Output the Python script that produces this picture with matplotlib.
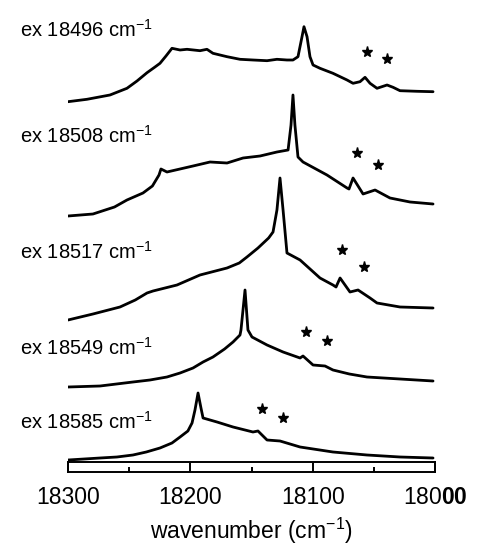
import matplotlib
matplotlib.use("Agg")
import matplotlib.pyplot as plt
import matplotlib.ticker as ticker

plt.rcParams['font.family'] = ['Liberation Sans', 'DejaVu Sans']
plt.rcParams['mathtext.fontset'] = 'custom'
plt.rcParams['mathtext.rm'] = 'Liberation Sans'
plt.rcParams['mathtext.bf'] = 'Liberation Sans:bold'

# excitation energies (cm-1), top to bottom
excitations = [18496, 18508, 18517, 18549, 18585]

# emission spectra: wavenumber (cm-1) and intensity (arb., above each trace's end level)
wn1 = [18300, 18284.5, 18265.7, 18251.8, 18243.6, 18235.4, 18228.9, 18224.8, 18219.9, 18215.0,
       18208.4, 18202.7, 18192.1, 18186.4, 18181.5, 18170.0, 18159.4, 18148.8, 18137.3, 18129.2,
       18121.0, 18116.1, 18112.0, 18108.7, 18107.1, 18104.6, 18102.2, 18099.7, 18094.0, 18083.4,
       18071.9, 18067.0, 18061.3, 18057.2, 18053.1, 18047.4, 18039.2, 18034.3, 18028.6, 18014.7,
       18001.6]
int1 = [-9.7, -7.3, -3.0, 3.7, 11.0, 19.3, 25.0, 28.7, 36.0, 43.7,
        42.0, 42.7, 41.3, 42.7, 38.7, 35.3, 32.7, 32.0, 31.3, 32.7,
        32.0, 32.0, 35.3, 55.3, 65.3, 55.3, 35.3, 27.0, 23.7, 18.7,
        12.0, 8.7, 10.3, 14.7, 8.7, 3.7, 7.0, 4.7, 1.3, 0.7,
        0.3]

wn2 = [18300, 18279.6, 18262.0, 18251.8, 18238.7, 18231.0, 18225.6, 18224.0, 18219.1, 18197.8,
       18183.9, 18170.0, 18156.9, 18143.0, 18129.2, 18120.1, 18117.7, 18116.1, 18114.5, 18112.0,
       18107.9, 18088.3, 18071.9, 18070.3, 18067.0, 18058.8, 18049.0, 18036.8, 18020.4, 18001.6]
int2 = [-12, -10, -3, 4, 11, 18, 29, 35, 32, 38,
        42, 41, 46, 48, 52, 54, 79, 109, 79, 47,
        42, 29, 16, 15, 26, 10, 14, 6, 2, 0]

wn3 = [18300, 18279.6, 18257.5, 18245.0, 18235.4, 18230.5, 18210.9, 18192.1, 18170.0, 18160.0,
       18153.7, 18144.7, 18136.0, 18132.4, 18129.2, 18126.7, 18124.2, 18121.0, 18110.3, 18094.0,
       18083.4, 18080.9, 18077.6, 18069.5, 18062.9, 18053.1, 18047.4, 18028.6, 18001.6]
int3 = [-12, -6, 1, 8, 15, 17, 23, 33, 40, 45,
        51, 60, 70, 76, 98, 130, 98, 55, 48, 30,
        23, 21, 30, 16, 18, 10, 5, 1, 0]

wn4 = [18300, 18273.8, 18246.9, 18233.0, 18219.1, 18208.4, 18197.8, 18189.6, 18181.5, 18172.0,
       18165.1, 18159.4, 18158.6, 18155.3, 18152.9, 18149.6, 18137.3, 18124.2, 18110.3, 18107.9,
       18099.7, 18089.9, 18083.4, 18070.0, 18055.6, 18028.6, 18001.6]
int4 = [-6, -5, -1, 1, 4, 8, 13, 19, 24, 32,
        39, 46, 51, 91, 51, 44, 36, 29, 23, 25,
        16, 15, 11, 7, 4, 2, 0]

wn5 = [18300, 18273.8, 18260.0, 18246.9, 18236.0, 18224.8, 18215.0, 18208.4, 18202.0, 18198.6,
       18196.2, 18193.7, 18191.3, 18189.6, 18178.2, 18165.1, 18148.8, 18144.7, 18137.3, 18126.7,
       18110.3, 18083.4, 18055.6, 18028.6, 18001.6]
int5 = [-2, 0, 1, 3, 6, 10, 15, 21, 27, 35,
        48, 65, 50, 40, 36, 31, 26, 27, 18, 17,
        11, 6, 3, 1, 0]

# asterisk-marked bands: wavenumber and height above trace end level
star_wn = [[18055.6, 18039.2], [18063.8, 18046.6], [18076.0, 18058.0],
           [18105.4, 18088.3], [18141.4, 18124.2]]
star_h = [[40, 33], [51, 39], [58, 41], [49, 40], [49, 40]]

wavenumbers = [wn1, wn2, wn3, wn4, wn5]
intensities = [int1, int2, int3, int4, int5]

# vertical stacking (axes units = pixels from bottom) and label heights
offsets = [458, 346, 242, 169, 92]
label_y = [520, 414, 298, 202, 128]

W, H = 483, 550
fig = plt.figure(figsize=(W / 100, H / 100), dpi=100)

ax = fig.add_axes([68 / W, 0, (435 - 68) / W, 1])
ax.set_xlim(18300, 18000)
ax.set_ylim(0, H)
ax.axis('off')

for wn, inten, off, sw, sh in zip(wavenumbers, intensities, offsets, star_wn, star_h):
    ax.plot(wn, [off + v for v in inten], color='black', lw=2.0,
            solid_joinstyle='round', solid_capstyle='round')
    ax.plot(sw, [off + v for v in sh], linestyle='none', marker='*', ms=8, color='black')

for ex, ly in zip(excitations, label_y):
    fig.text(20 / W, ly / H, "ex %d cm$^{\\mathregular{-1}}$" % ex, fontsize=14.5,
             va='center', ha='left')

# thin x-axis bar
axb = fig.add_axes([68 / W, (H - 472) / H, (435 - 68) / W, 10 / H])
axb.set_xlim(18300, 18000)
axb.set_yticks([])
for s in axb.spines.values():
    s.set_linewidth(1.4)
axb.xaxis.set_minor_locator(ticker.MultipleLocator(50))
axb.tick_params(axis='x', which='major', direction='in', length=6.5, width=1.4,
                labelsize=16.5, pad=10)
axb.tick_params(axis='x', which='minor', direction='in', length=3.5, width=1.4)
axb.set_xticks([18300, 18200, 18100, 18000])
axb.set_xticklabels(['18300', '18200', '18100', '180$\\mathbf{00}$'])
axb.set_xlabel("wavenumber (cm$^{\\mathregular{-1}}$)", fontsize=16.5, labelpad=5)

fig.savefig("out.png", dpi=100)
